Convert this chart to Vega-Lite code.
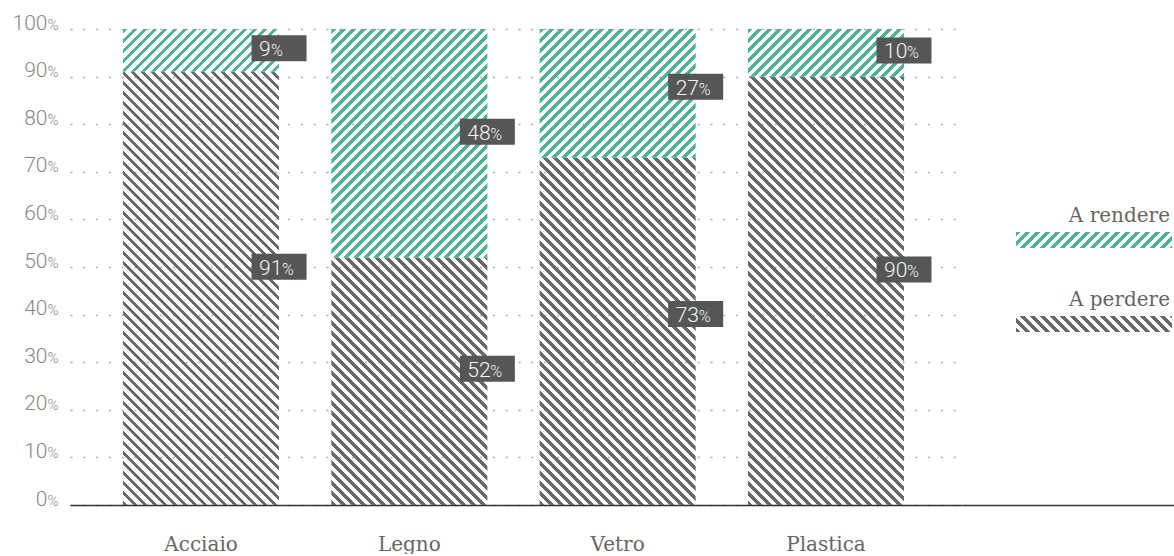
{
"$schema": "https://vega.github.io/schema/vega-lite/v6.json",
"padding": {"left": 12, "top": 12, "right": 0, "bottom": 0},
"spacing": 0,
"bounds": "flush",
"params": [
{"name": "stripesGray", "value": [
{"offset":0,"color":"#696969"},{"offset":0.008,"color":"#696969"},{"offset":0.008,"color":"transparent"},{"offset":0.01667,"color":"transparent"},
{"offset":0.01667,"color":"#696969"},{"offset":0.02467,"color":"#696969"},{"offset":0.02467,"color":"transparent"},{"offset":0.03333,"color":"transparent"},
{"offset":0.03333,"color":"#696969"},{"offset":0.04133,"color":"#696969"},{"offset":0.04133,"color":"transparent"},{"offset":0.05,"color":"transparent"},
{"offset":0.05,"color":"#696969"},{"offset":0.058,"color":"#696969"},{"offset":0.058,"color":"transparent"},{"offset":0.06667,"color":"transparent"},
{"offset":0.06667,"color":"#696969"},{"offset":0.07467,"color":"#696969"},{"offset":0.07467,"color":"transparent"},{"offset":0.08333,"color":"transparent"},
{"offset":0.08333,"color":"#696969"},{"offset":0.09133,"color":"#696969"},{"offset":0.09133,"color":"transparent"},{"offset":0.1,"color":"transparent"},
{"offset":0.1,"color":"#696969"},{"offset":0.108,"color":"#696969"},{"offset":0.108,"color":"transparent"},{"offset":0.11667,"color":"transparent"},
{"offset":0.11667,"color":"#696969"},{"offset":0.12467,"color":"#696969"},{"offset":0.12467,"color":"transparent"},{"offset":0.13333,"color":"transparent"},
{"offset":0.13333,"color":"#696969"},{"offset":0.14133,"color":"#696969"},{"offset":0.14133,"color":"transparent"},{"offset":0.15,"color":"transparent"},
{"offset":0.15,"color":"#696969"},{"offset":0.158,"color":"#696969"},{"offset":0.158,"color":"transparent"},{"offset":0.16667,"color":"transparent"},
{"offset":0.16667,"color":"#696969"},{"offset":0.17467,"color":"#696969"},{"offset":0.17467,"color":"transparent"},{"offset":0.18333,"color":"transparent"},
{"offset":0.18333,"color":"#696969"},{"offset":0.19133,"color":"#696969"},{"offset":0.19133,"color":"transparent"},{"offset":0.2,"color":"transparent"},
{"offset":0.2,"color":"#696969"},{"offset":0.208,"color":"#696969"},{"offset":0.208,"color":"transparent"},{"offset":0.21667,"color":"transparent"},
{"offset":0.21667,"color":"#696969"},{"offset":0.22467,"color":"#696969"},{"offset":0.22467,"color":"transparent"},{"offset":0.23333,"color":"transparent"},
{"offset":0.23333,"color":"#696969"},{"offset":0.24133,"color":"#696969"},{"offset":0.24133,"color":"transparent"},{"offset":0.25,"color":"transparent"},
{"offset":0.25,"color":"#696969"},{"offset":0.258,"color":"#696969"},{"offset":0.258,"color":"transparent"},{"offset":0.26667,"color":"transparent"},
{"offset":0.26667,"color":"#696969"},{"offset":0.27467,"color":"#696969"},{"offset":0.27467,"color":"transparent"},{"offset":0.28333,"color":"transparent"},
{"offset":0.28333,"color":"#696969"},{"offset":0.29133,"color":"#696969"},{"offset":0.29133,"color":"transparent"},{"offset":0.3,"color":"transparent"},
{"offset":0.3,"color":"#696969"},{"offset":0.308,"color":"#696969"},{"offset":0.308,"color":"transparent"},{"offset":0.31667,"color":"transparent"},
{"offset":0.31667,"color":"#696969"},{"offset":0.32467,"color":"#696969"},{"offset":0.32467,"color":"transparent"},{"offset":0.33333,"color":"transparent"},
{"offset":0.33333,"color":"#696969"},{"offset":0.34133,"color":"#696969"},{"offset":0.34133,"color":"transparent"},{"offset":0.35,"color":"transparent"},
{"offset":0.35,"color":"#696969"},{"offset":0.358,"color":"#696969"},{"offset":0.358,"color":"transparent"},{"offset":0.36667,"color":"transparent"},
{"offset":0.36667,"color":"#696969"},{"offset":0.37467,"color":"#696969"},{"offset":0.37467,"color":"transparent"},{"offset":0.38333,"color":"transparent"},
{"offset":0.38333,"color":"#696969"},{"offset":0.39133,"color":"#696969"},{"offset":0.39133,"color":"transparent"},{"offset":0.4,"color":"transparent"},
{"offset":0.4,"color":"#696969"},{"offset":0.408,"color":"#696969"},{"offset":0.408,"color":"transparent"},{"offset":0.41667,"color":"transparent"},
{"offset":0.41667,"color":"#696969"},{"offset":0.42467,"color":"#696969"},{"offset":0.42467,"color":"transparent"},{"offset":0.43333,"color":"transparent"},
{"offset":0.43333,"color":"#696969"},{"offset":0.44133,"color":"#696969"},{"offset":0.44133,"color":"transparent"},{"offset":0.45,"color":"transparent"},
{"offset":0.45,"color":"#696969"},{"offset":0.458,"color":"#696969"},{"offset":0.458,"color":"transparent"},{"offset":0.46667,"color":"transparent"},
{"offset":0.46667,"color":"#696969"},{"offset":0.47467,"color":"#696969"},{"offset":0.47467,"color":"transparent"},{"offset":0.48333,"color":"transparent"},
{"offset":0.48333,"color":"#696969"},{"offset":0.49133,"color":"#696969"},{"offset":0.49133,"color":"transparent"},{"offset":0.5,"color":"transparent"},
{"offset":0.5,"color":"#696969"},{"offset":0.508,"color":"#696969"},{"offset":0.508,"color":"transparent"},{"offset":0.51667,"color":"transparent"},
{"offset":0.51667,"color":"#696969"},{"offset":0.52467,"color":"#696969"},{"offset":0.52467,"color":"transparent"},{"offset":0.53333,"color":"transparent"},
{"offset":0.53333,"color":"#696969"},{"offset":0.54133,"color":"#696969"},{"offset":0.54133,"color":"transparent"},{"offset":0.55,"color":"transparent"},
{"offset":0.55,"color":"#696969"},{"offset":0.558,"color":"#696969"},{"offset":0.558,"color":"transparent"},{"offset":0.56667,"color":"transparent"},
{"offset":0.56667,"color":"#696969"},{"offset":0.57467,"color":"#696969"},{"offset":0.57467,"color":"transparent"},{"offset":0.58333,"color":"transparent"},
{"offset":0.58333,"color":"#696969"},{"offset":0.59133,"color":"#696969"},{"offset":0.59133,"color":"transparent"},{"offset":0.6,"color":"transparent"},
{"offset":0.6,"color":"#696969"},{"offset":0.608,"color":"#696969"},{"offset":0.608,"color":"transparent"},{"offset":0.61667,"color":"transparent"},
{"offset":0.61667,"color":"#696969"},{"offset":0.62467,"color":"#696969"},{"offset":0.62467,"color":"transparent"},{"offset":0.63333,"color":"transparent"},
{"offset":0.63333,"color":"#696969"},{"offset":0.64133,"color":"#696969"},{"offset":0.64133,"color":"transparent"},{"offset":0.65,"color":"transparent"},
{"offset":0.65,"color":"#696969"},{"offset":0.658,"color":"#696969"},{"offset":0.658,"color":"transparent"},{"offset":0.66667,"color":"transparent"},
{"offset":0.66667,"color":"#696969"},{"offset":0.67467,"color":"#696969"},{"offset":0.67467,"color":"transparent"},{"offset":0.68333,"color":"transparent"},
{"offset":0.68333,"color":"#696969"},{"offset":0.69133,"color":"#696969"},{"offset":0.69133,"color":"transparent"},{"offset":0.7,"color":"transparent"},
{"offset":0.7,"color":"#696969"},{"offset":0.708,"color":"#696969"},{"offset":0.708,"color":"transparent"},{"offset":0.71667,"color":"transparent"},
{"offset":0.71667,"color":"#696969"},{"offset":0.72467,"color":"#696969"},{"offset":0.72467,"color":"transparent"},{"offset":0.73333,"color":"transparent"},
{"offset":0.73333,"color":"#696969"},{"offset":0.74133,"color":"#696969"},{"offset":0.74133,"color":"transparent"},{"offset":0.75,"color":"transparent"},
{"offset":0.75,"color":"#696969"},{"offset":0.758,"color":"#696969"},{"offset":0.758,"color":"transparent"},{"offset":0.76667,"color":"transparent"},
{"offset":0.76667,"color":"#696969"},{"offset":0.77467,"color":"#696969"},{"offset":0.77467,"color":"transparent"},{"offset":0.78333,"color":"transparent"},
{"offset":0.78333,"color":"#696969"},{"offset":0.79133,"color":"#696969"},{"offset":0.79133,"color":"transparent"},{"offset":0.8,"color":"transparent"},
{"offset":0.8,"color":"#696969"},{"offset":0.808,"color":"#696969"},{"offset":0.808,"color":"transparent"},{"offset":0.81667,"color":"transparent"},
{"offset":0.81667,"color":"#696969"},{"offset":0.82467,"color":"#696969"},{"offset":0.82467,"color":"transparent"},{"offset":0.83333,"color":"transparent"},
{"offset":0.83333,"color":"#696969"},{"offset":0.84133,"color":"#696969"},{"offset":0.84133,"color":"transparent"},{"offset":0.85,"color":"transparent"},
{"offset":0.85,"color":"#696969"},{"offset":0.858,"color":"#696969"},{"offset":0.858,"color":"transparent"},{"offset":0.86667,"color":"transparent"},
{"offset":0.86667,"color":"#696969"},{"offset":0.87467,"color":"#696969"},{"offset":0.87467,"color":"transparent"},{"offset":0.88333,"color":"transparent"},
{"offset":0.88333,"color":"#696969"},{"offset":0.89133,"color":"#696969"},{"offset":0.89133,"color":"transparent"},{"offset":0.9,"color":"transparent"},
{"offset":0.9,"color":"#696969"},{"offset":0.908,"color":"#696969"},{"offset":0.908,"color":"transparent"},{"offset":0.91667,"color":"transparent"},
{"offset":0.91667,"color":"#696969"},{"offset":0.92467,"color":"#696969"},{"offset":0.92467,"color":"transparent"},{"offset":0.93333,"color":"transparent"},
{"offset":0.93333,"color":"#696969"},{"offset":0.94133,"color":"#696969"},{"offset":0.94133,"color":"transparent"},{"offset":0.95,"color":"transparent"},
{"offset":0.95,"color":"#696969"},{"offset":0.958,"color":"#696969"},{"offset":0.958,"color":"transparent"},{"offset":0.96667,"color":"transparent"},
{"offset":0.96667,"color":"#696969"},{"offset":0.97467,"color":"#696969"},{"offset":0.97467,"color":"transparent"},{"offset":0.98333,"color":"transparent"},
{"offset":0.98333,"color":"#696969"},{"offset":0.99133,"color":"#696969"},{"offset":0.99133,"color":"transparent"},{"offset":1,"color":"transparent"}
]},
{"name": "stripesGreen", "value": [
{"offset":0,"color":"#4db48e"},{"offset":0.008,"color":"#4db48e"},{"offset":0.008,"color":"transparent"},{"offset":0.01667,"color":"transparent"},
{"offset":0.01667,"color":"#4db48e"},{"offset":0.02467,"color":"#4db48e"},{"offset":0.02467,"color":"transparent"},{"offset":0.03333,"color":"transparent"},
{"offset":0.03333,"color":"#4db48e"},{"offset":0.04133,"color":"#4db48e"},{"offset":0.04133,"color":"transparent"},{"offset":0.05,"color":"transparent"},
{"offset":0.05,"color":"#4db48e"},{"offset":0.058,"color":"#4db48e"},{"offset":0.058,"color":"transparent"},{"offset":0.06667,"color":"transparent"},
{"offset":0.06667,"color":"#4db48e"},{"offset":0.07467,"color":"#4db48e"},{"offset":0.07467,"color":"transparent"},{"offset":0.08333,"color":"transparent"},
{"offset":0.08333,"color":"#4db48e"},{"offset":0.09133,"color":"#4db48e"},{"offset":0.09133,"color":"transparent"},{"offset":0.1,"color":"transparent"},
{"offset":0.1,"color":"#4db48e"},{"offset":0.108,"color":"#4db48e"},{"offset":0.108,"color":"transparent"},{"offset":0.11667,"color":"transparent"},
{"offset":0.11667,"color":"#4db48e"},{"offset":0.12467,"color":"#4db48e"},{"offset":0.12467,"color":"transparent"},{"offset":0.13333,"color":"transparent"},
{"offset":0.13333,"color":"#4db48e"},{"offset":0.14133,"color":"#4db48e"},{"offset":0.14133,"color":"transparent"},{"offset":0.15,"color":"transparent"},
{"offset":0.15,"color":"#4db48e"},{"offset":0.158,"color":"#4db48e"},{"offset":0.158,"color":"transparent"},{"offset":0.16667,"color":"transparent"},
{"offset":0.16667,"color":"#4db48e"},{"offset":0.17467,"color":"#4db48e"},{"offset":0.17467,"color":"transparent"},{"offset":0.18333,"color":"transparent"},
{"offset":0.18333,"color":"#4db48e"},{"offset":0.19133,"color":"#4db48e"},{"offset":0.19133,"color":"transparent"},{"offset":0.2,"color":"transparent"},
{"offset":0.2,"color":"#4db48e"},{"offset":0.208,"color":"#4db48e"},{"offset":0.208,"color":"transparent"},{"offset":0.21667,"color":"transparent"},
{"offset":0.21667,"color":"#4db48e"},{"offset":0.22467,"color":"#4db48e"},{"offset":0.22467,"color":"transparent"},{"offset":0.23333,"color":"transparent"},
{"offset":0.23333,"color":"#4db48e"},{"offset":0.24133,"color":"#4db48e"},{"offset":0.24133,"color":"transparent"},{"offset":0.25,"color":"transparent"},
{"offset":0.25,"color":"#4db48e"},{"offset":0.258,"color":"#4db48e"},{"offset":0.258,"color":"transparent"},{"offset":0.26667,"color":"transparent"},
{"offset":0.26667,"color":"#4db48e"},{"offset":0.27467,"color":"#4db48e"},{"offset":0.27467,"color":"transparent"},{"offset":0.28333,"color":"transparent"},
{"offset":0.28333,"color":"#4db48e"},{"offset":0.29133,"color":"#4db48e"},{"offset":0.29133,"color":"transparent"},{"offset":0.3,"color":"transparent"},
{"offset":0.3,"color":"#4db48e"},{"offset":0.308,"color":"#4db48e"},{"offset":0.308,"color":"transparent"},{"offset":0.31667,"color":"transparent"},
{"offset":0.31667,"color":"#4db48e"},{"offset":0.32467,"color":"#4db48e"},{"offset":0.32467,"color":"transparent"},{"offset":0.33333,"color":"transparent"},
{"offset":0.33333,"color":"#4db48e"},{"offset":0.34133,"color":"#4db48e"},{"offset":0.34133,"color":"transparent"},{"offset":0.35,"color":"transparent"},
{"offset":0.35,"color":"#4db48e"},{"offset":0.358,"color":"#4db48e"},{"offset":0.358,"color":"transparent"},{"offset":0.36667,"color":"transparent"},
{"offset":0.36667,"color":"#4db48e"},{"offset":0.37467,"color":"#4db48e"},{"offset":0.37467,"color":"transparent"},{"offset":0.38333,"color":"transparent"},
{"offset":0.38333,"color":"#4db48e"},{"offset":0.39133,"color":"#4db48e"},{"offset":0.39133,"color":"transparent"},{"offset":0.4,"color":"transparent"},
{"offset":0.4,"color":"#4db48e"},{"offset":0.408,"color":"#4db48e"},{"offset":0.408,"color":"transparent"},{"offset":0.41667,"color":"transparent"},
{"offset":0.41667,"color":"#4db48e"},{"offset":0.42467,"color":"#4db48e"},{"offset":0.42467,"color":"transparent"},{"offset":0.43333,"color":"transparent"},
{"offset":0.43333,"color":"#4db48e"},{"offset":0.44133,"color":"#4db48e"},{"offset":0.44133,"color":"transparent"},{"offset":0.45,"color":"transparent"},
{"offset":0.45,"color":"#4db48e"},{"offset":0.458,"color":"#4db48e"},{"offset":0.458,"color":"transparent"},{"offset":0.46667,"color":"transparent"},
{"offset":0.46667,"color":"#4db48e"},{"offset":0.47467,"color":"#4db48e"},{"offset":0.47467,"color":"transparent"},{"offset":0.48333,"color":"transparent"},
{"offset":0.48333,"color":"#4db48e"},{"offset":0.49133,"color":"#4db48e"},{"offset":0.49133,"color":"transparent"},{"offset":0.5,"color":"transparent"},
{"offset":0.5,"color":"#4db48e"},{"offset":0.508,"color":"#4db48e"},{"offset":0.508,"color":"transparent"},{"offset":0.51667,"color":"transparent"},
{"offset":0.51667,"color":"#4db48e"},{"offset":0.52467,"color":"#4db48e"},{"offset":0.52467,"color":"transparent"},{"offset":0.53333,"color":"transparent"},
{"offset":0.53333,"color":"#4db48e"},{"offset":0.54133,"color":"#4db48e"},{"offset":0.54133,"color":"transparent"},{"offset":0.55,"color":"transparent"},
{"offset":0.55,"color":"#4db48e"},{"offset":0.558,"color":"#4db48e"},{"offset":0.558,"color":"transparent"},{"offset":0.56667,"color":"transparent"},
{"offset":0.56667,"color":"#4db48e"},{"offset":0.57467,"color":"#4db48e"},{"offset":0.57467,"color":"transparent"},{"offset":0.58333,"color":"transparent"},
{"offset":0.58333,"color":"#4db48e"},{"offset":0.59133,"color":"#4db48e"},{"offset":0.59133,"color":"transparent"},{"offset":0.6,"color":"transparent"},
{"offset":0.6,"color":"#4db48e"},{"offset":0.608,"color":"#4db48e"},{"offset":0.608,"color":"transparent"},{"offset":0.61667,"color":"transparent"},
{"offset":0.61667,"color":"#4db48e"},{"offset":0.62467,"color":"#4db48e"},{"offset":0.62467,"color":"transparent"},{"offset":0.63333,"color":"transparent"},
{"offset":0.63333,"color":"#4db48e"},{"offset":0.64133,"color":"#4db48e"},{"offset":0.64133,"color":"transparent"},{"offset":0.65,"color":"transparent"},
{"offset":0.65,"color":"#4db48e"},{"offset":0.658,"color":"#4db48e"},{"offset":0.658,"color":"transparent"},{"offset":0.66667,"color":"transparent"},
{"offset":0.66667,"color":"#4db48e"},{"offset":0.67467,"color":"#4db48e"},{"offset":0.67467,"color":"transparent"},{"offset":0.68333,"color":"transparent"},
{"offset":0.68333,"color":"#4db48e"},{"offset":0.69133,"color":"#4db48e"},{"offset":0.69133,"color":"transparent"},{"offset":0.7,"color":"transparent"},
{"offset":0.7,"color":"#4db48e"},{"offset":0.708,"color":"#4db48e"},{"offset":0.708,"color":"transparent"},{"offset":0.71667,"color":"transparent"},
{"offset":0.71667,"color":"#4db48e"},{"offset":0.72467,"color":"#4db48e"},{"offset":0.72467,"color":"transparent"},{"offset":0.73333,"color":"transparent"},
{"offset":0.73333,"color":"#4db48e"},{"offset":0.74133,"color":"#4db48e"},{"offset":0.74133,"color":"transparent"},{"offset":0.75,"color":"transparent"},
{"offset":0.75,"color":"#4db48e"},{"offset":0.758,"color":"#4db48e"},{"offset":0.758,"color":"transparent"},{"offset":0.76667,"color":"transparent"},
{"offset":0.76667,"color":"#4db48e"},{"offset":0.77467,"color":"#4db48e"},{"offset":0.77467,"color":"transparent"},{"offset":0.78333,"color":"transparent"},
{"offset":0.78333,"color":"#4db48e"},{"offset":0.79133,"color":"#4db48e"},{"offset":0.79133,"color":"transparent"},{"offset":0.8,"color":"transparent"},
{"offset":0.8,"color":"#4db48e"},{"offset":0.808,"color":"#4db48e"},{"offset":0.808,"color":"transparent"},{"offset":0.81667,"color":"transparent"},
{"offset":0.81667,"color":"#4db48e"},{"offset":0.82467,"color":"#4db48e"},{"offset":0.82467,"color":"transparent"},{"offset":0.83333,"color":"transparent"},
{"offset":0.83333,"color":"#4db48e"},{"offset":0.84133,"color":"#4db48e"},{"offset":0.84133,"color":"transparent"},{"offset":0.85,"color":"transparent"},
{"offset":0.85,"color":"#4db48e"},{"offset":0.858,"color":"#4db48e"},{"offset":0.858,"color":"transparent"},{"offset":0.86667,"color":"transparent"},
{"offset":0.86667,"color":"#4db48e"},{"offset":0.87467,"color":"#4db48e"},{"offset":0.87467,"color":"transparent"},{"offset":0.88333,"color":"transparent"},
{"offset":0.88333,"color":"#4db48e"},{"offset":0.89133,"color":"#4db48e"},{"offset":0.89133,"color":"transparent"},{"offset":0.9,"color":"transparent"},
{"offset":0.9,"color":"#4db48e"},{"offset":0.908,"color":"#4db48e"},{"offset":0.908,"color":"transparent"},{"offset":0.91667,"color":"transparent"},
{"offset":0.91667,"color":"#4db48e"},{"offset":0.92467,"color":"#4db48e"},{"offset":0.92467,"color":"transparent"},{"offset":0.93333,"color":"transparent"},
{"offset":0.93333,"color":"#4db48e"},{"offset":0.94133,"color":"#4db48e"},{"offset":0.94133,"color":"transparent"},{"offset":0.95,"color":"transparent"},
{"offset":0.95,"color":"#4db48e"},{"offset":0.958,"color":"#4db48e"},{"offset":0.958,"color":"transparent"},{"offset":0.96667,"color":"transparent"},
{"offset":0.96667,"color":"#4db48e"},{"offset":0.97467,"color":"#4db48e"},{"offset":0.97467,"color":"transparent"},{"offset":0.98333,"color":"transparent"},
{"offset":0.98333,"color":"#4db48e"},{"offset":0.99133,"color":"#4db48e"},{"offset":0.99133,"color":"transparent"},{"offset":1,"color":"transparent"}
]}
],
"hconcat": [
{
"width": 892,
"height": 476,
"data": {"values": [
{"cat": "Acciaio", "tipo": "A perdere", "pct": 91},
{"cat": "Acciaio", "tipo": "A rendere", "pct": 9},
{"cat": "Legno", "tipo": "A perdere", "pct": 52},
{"cat": "Legno", "tipo": "A rendere", "pct": 48},
{"cat": "Vetro", "tipo": "A perdere", "pct": 73},
{"cat": "Vetro", "tipo": "A rendere", "pct": 27},
{"cat": "Plastica", "tipo": "A perdere", "pct": 90},
{"cat": "Plastica", "tipo": "A rendere", "pct": 10}
]},
"transform": [
{"stack": "pct", "groupby": ["cat"], "sort": [{"field": "tipo", "order": "ascending"}], "as": ["v0", "v1"]},
{"calculate": "datum.v0 + 0.55 * (datum.v1 - datum.v0)", "as": "labY"},
{"calculate": "(datum.v1 - datum.v0) * 4.76", "as": "hpx"},
{"calculate": "datum.tipo == 'A perdere' ? {gradient: 'linear', x1: 0, y1: 1, x2: 156 * 600 / (24336 + datum.hpx * datum.hpx), y2: 1 - datum.hpx * 600 / (24336 + datum.hpx * datum.hpx), stops: stripesGray} : {gradient: 'linear', x1: 0, y1: 0, x2: 156 * 600 / (24336 + datum.hpx * datum.hpx), y2: datum.hpx * 600 / (24336 + datum.hpx * datum.hpx), stops: stripesGreen}", "as": "grad"}
],
"layer": [
{
"mark": {"type": "bar"},
"encoding": {
"x": {"field": "cat", "type": "nominal", "sort": null, "title": null, "scale": {"domain": ["Acciaio", "Legno", "Vetro", "Plastica"], "paddingInner": 0.251, "paddingOuter": 0.2665, "align": 0.4775}},
"y": {"field": "v1", "type": "quantitative", "scale": {"domain": [0, 100], "nice": false}, "axis": {"orient": "left", "values": [0, 10, 20, 30, 40, 50, 60, 70, 80, 90, 100], "title": null, "domain": false, "ticks": false, "tickSize": 0, "labelPadding": 23, "labelAlign": "right", "labelBaseline": "alphabetic", "labelFont": "Roboto", "labelFontWeight": 300, "labelFontSize": 21, "labelColor": "#888888", "labelFlush": false, "labelOverlap": false, "grid": true, "gridColor": "#aaaaaa", "gridDash": [2, 10.8], "gridWidth": 1.5}},
"y2": {"field": "v0"},
"fill": {"field": "grad", "type": "nominal", "scale": null}
}
},
{
"mark": {"type": "point", "shape": "M-1,-0.4727L1,-0.4727L1,0.4727L-1,0.4727Z", "size": 3025, "filled": true, "fill": "#565656", "opacity": 1, "strokeWidth": 0},
"encoding": {
"x": {"field": "cat", "type": "nominal", "sort": null, "title": null, "bandPosition": 1, "scale": {"domain": ["Acciaio", "Legno", "Vetro", "Plastica"], "paddingInner": 0.251, "paddingOuter": 0.2665, "align": 0.4775}},
"y": {"field": "labY", "type": "quantitative", "scale": {"domain": [0, 100], "nice": false}, "axis": {"orient": "left", "values": [0, 10, 20, 30, 40, 50, 60, 70, 80, 90, 100], "title": null, "domain": false, "ticks": false, "tickSize": 0, "grid": false, "labelPadding": 23, "labelAlign": "left", "labelBaseline": "alphabetic", "labelFont": "Roboto", "labelFontWeight": 300, "labelFontSize": 15, "labelColor": "#888888", "labelFlush": false, "labelOverlap": false, "labelExpr": "'%'"}}
}
},
{
"mark": {"type": "text", "align": "left", "baseline": "alphabetic", "dx": -20, "dy": 8, "font": "Roboto", "fontWeight": 300, "fontSize": 21, "fill": "#f4f4f4"},
"encoding": {
"x": {"field": "cat", "type": "nominal", "sort": null, "title": null, "bandPosition": 1, "scale": {"domain": ["Acciaio", "Legno", "Vetro", "Plastica"], "paddingInner": 0.251, "paddingOuter": 0.2665, "align": 0.4775}},
"y": {"field": "labY", "type": "quantitative", "scale": {"domain": [0, 100], "nice": false}, "axis": null},
"text": {"field": "pct", "type": "quantitative"}
}
},
{
"transform": [{"filter": "datum.pct >= 10"}],
"mark": {"type": "text", "align": "left", "baseline": "alphabetic", "dx": 3, "dy": 8, "font": "Roboto", "fontWeight": 300, "fontSize": 16, "fill": "#f4f4f4"},
"encoding": {
"x": {"field": "cat", "type": "nominal", "sort": null, "title": null, "bandPosition": 1, "scale": {"domain": ["Acciaio", "Legno", "Vetro", "Plastica"], "paddingInner": 0.251, "paddingOuter": 0.2665, "align": 0.4775}},
"y": {"field": "labY", "type": "quantitative", "scale": {"domain": [0, 100], "nice": false}, "axis": null},
"text": {"value": "%"}
}
},
{
"transform": [{"filter": "datum.pct < 10"}],
"mark": {"type": "text", "align": "left", "baseline": "alphabetic", "dx": -8, "dy": 8, "font": "Roboto", "fontWeight": 300, "fontSize": 16, "fill": "#f4f4f4"},
"encoding": {
"x": {"field": "cat", "type": "nominal", "sort": null, "title": null, "bandPosition": 1, "scale": {"domain": ["Acciaio", "Legno", "Vetro", "Plastica"], "paddingInner": 0.251, "paddingOuter": 0.2665, "align": 0.4775}},
"y": {"field": "labY", "type": "quantitative", "scale": {"domain": [0, 100], "nice": false}, "axis": null},
"text": {"value": "%"}
}
}
],
"resolve": {"scale": {"y": "independent"}, "axis": {"y": "independent"}}
},
{
"width": 212,
"height": 476,
"data": {"values": [{"tipo": "A rendere"}, {"tipo": "A perdere"}]},
"transform": [
{"calculate": "datum.tipo == 'A perdere' ? {gradient: 'linear', x1: 0, y1: 1, x2: 3.80612, y2: 0.609629, stops: stripesGray} : {gradient: 'linear', x1: 0, y1: 0, x2: 3.80612, y2: 0.390371, stops: stripesGreen}", "as": "grad"}
],
"layer": [
{
"mark": {"type": "bar", "height": 16},
"encoding": {
"x": {"datum": "L", "type": "nominal", "title": null, "scale": {"type": "band", "paddingInner": 0, "paddingOuter": 0.1795, "align": 0.964}, "axis": {"labels": false, "ticks": false, "grid": false, "domain": true, "title": null}},
"y": {"field": "tipo", "type": "nominal", "sort": null, "scale": {"domain": ["A rendere", "A perdere"], "range": [169, 337], "paddingInner": 0, "paddingOuter": 0}, "axis": null},
"fill": {"field": "grad", "type": "nominal", "scale": null}
}
},
{
"mark": {"type": "text", "align": "right", "baseline": "alphabetic", "dx": -2, "dy": -18, "font": "DejaVu Serif", "fontSize": 20, "fill": "#666666"},
"encoding": {
"x": {"datum": "L", "type": "nominal", "title": null, "bandPosition": 1, "scale": {"type": "band", "paddingInner": 0, "paddingOuter": 0.1795, "align": 0.964}, "axis": {"labels": false, "ticks": false, "grid": false, "domain": true, "title": null}},
"y": {"field": "tipo", "type": "nominal", "sort": null, "scale": {"domain": ["A rendere", "A perdere"], "range": [169, 337], "paddingInner": 0, "paddingOuter": 0}, "axis": null},
"text": {"field": "tipo"}
}
}
]
}
],
"config": {
"background": "white",
"view": {"stroke": null},
"axisX": {"labelFont": "DejaVu Serif", "labelFontSize": 20, "labelColor": "#666666", "labelPadding": 45, "labelBaseline": "alphabetic", "labelAngle": 0, "ticks": false, "tickSize": 0, "domainColor": "#333333", "domainWidth": 1.5, "grid": false}
}
}
